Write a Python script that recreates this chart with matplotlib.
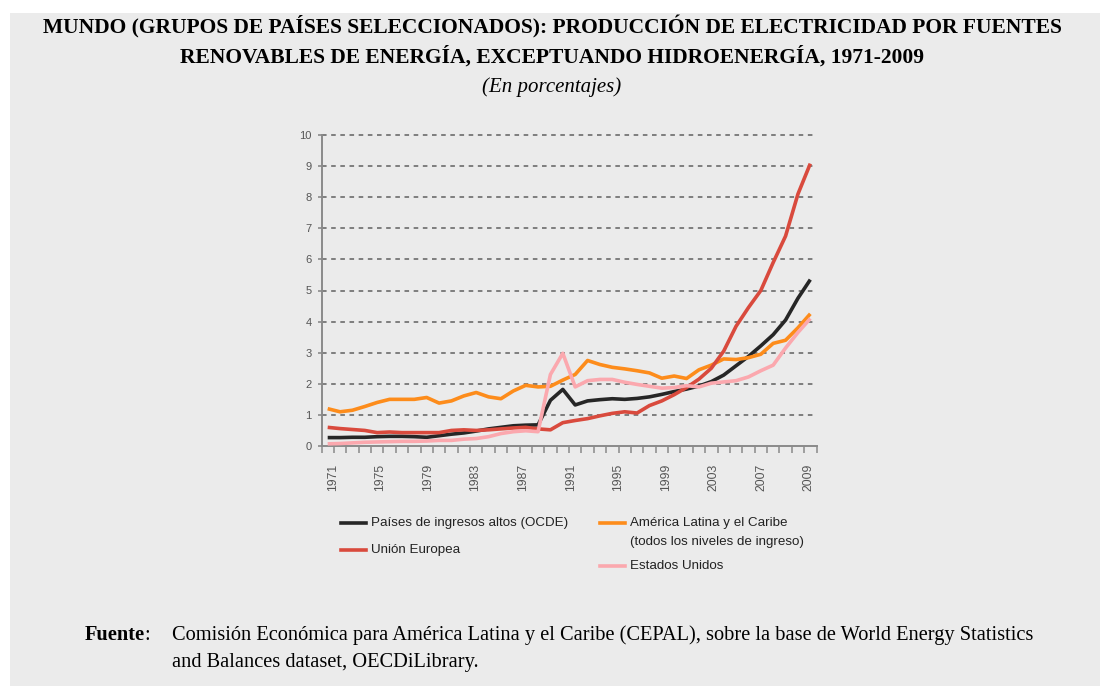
import numpy as np
import matplotlib
matplotlib.use("Agg")
import matplotlib.pyplot as plt
from matplotlib.lines import Line2D
from matplotlib.patches import Rectangle

# values, % of electricity (40 points)
ocde = [0.27, 0.27, 0.28, 0.28, 0.30, 0.31, 0.31, 0.30, 0.28, 0.33,
        0.38, 0.42, 0.48, 0.55, 0.60, 0.65, 0.67, 0.68, 1.47, 1.82,
        1.32, 1.45, 1.49, 1.52, 1.50, 1.53, 1.58, 1.66, 1.75, 1.83,
        1.93, 2.07, 2.28, 2.58, 2.88, 3.22, 3.58, 4.05, 4.75, 5.35]
ue = [0.60, 0.56, 0.53, 0.50, 0.43, 0.45, 0.43, 0.43, 0.43, 0.43,
      0.50, 0.52, 0.50, 0.52, 0.55, 0.58, 0.60, 0.55, 0.52, 0.75,
      0.82, 0.88, 0.97, 1.05, 1.10, 1.06, 1.30, 1.45, 1.65, 1.88,
      2.15, 2.50, 3.05, 3.85, 4.45, 5.00, 5.90, 6.75, 8.10, 9.08]
alc = [1.20, 1.10, 1.15, 1.27, 1.40, 1.50, 1.50, 1.50, 1.56, 1.38,
       1.45, 1.61, 1.72, 1.58, 1.52, 1.77, 1.95, 1.90, 1.92, 2.12,
       2.30, 2.75, 2.62, 2.53, 2.48, 2.42, 2.35, 2.18, 2.25, 2.17,
       2.45, 2.60, 2.80, 2.78, 2.84, 2.95, 3.30, 3.40, 3.80, 4.25]
eeuu = [0.07, 0.08, 0.10, 0.12, 0.13, 0.14, 0.15, 0.15, 0.16, 0.18,
        0.18, 0.22, 0.24, 0.30, 0.40, 0.46, 0.49, 0.46, 2.30, 2.98,
        1.90, 2.10, 2.14, 2.14, 2.05, 1.98, 1.92, 1.86, 1.88, 1.94,
        1.90, 2.02, 2.06, 2.10, 2.22, 2.42, 2.60, 3.15, 3.65, 4.10]

year_labels = ['1971', '1975', '1979', '1983', '1987', '1991',
               '1995', '1999', '2003', '2007', '2009']

names = ['Países de ingresos altos (OCDE)', 'Unión Europea',
         'América Latina y el Caribe\n(todos los niveles de ingreso)',
         'Estados Unidos']
colors = ['#262626', '#d94a3d', '#fd8c1b', '#fba8ae']

W, H = 1104, 688
BG = '#ebebeb'
SANS = ['Liberation Sans', 'DejaVu Sans']
SERIF = ['Liberation Serif', 'DejaVu Serif']


def fx(px):
    return px / W


def fy(py):
    return 1 - py / H


fig = plt.figure(figsize=(W / 100, H / 100), dpi=100, facecolor='white')
fig.patches.append(Rectangle((fx(10), fy(686)), fx(1090), 673 / H,
                             transform=fig.transFigure, facecolor=BG,
                             edgecolor='none', zorder=-5))

ax = fig.add_axes([fx(321.5), fy(446), fx(816.5 - 321.5), (446 - 135) / H])
ax.set_zorder(2)
ax.patch.set_alpha(0)

x = np.arange(len(ocde))
for vals, c in [(ocde, colors[0]), (alc, colors[2]), (ue, colors[1]), (eeuu, colors[3])]:
    ax.plot(x, vals, color=c, lw=2.6, solid_capstyle='butt',
            solid_joinstyle='round', zorder=3)

ax.set_xlim(-0.5, len(ocde) - 0.5)
ax.set_ylim(0, 10)
for s in ['top', 'right']:
    ax.spines[s].set_visible(False)
for s in ['left', 'bottom']:
    ax.spines[s].set_color('#8a8a8a')
    ax.spines[s].set_linewidth(1.4)

ax.set_yticks(range(0, 11))
ax.tick_params(axis='y', direction='out', length=3, width=1.2,
               color='#8a8a8a', labelsize=8, labelcolor='#555555', pad=4)
for lab in ax.get_yticklabels():
    lab.set_family(SANS)
for v in range(1, 11):
    ax.axhline(v, color='#606060', lw=1.1, ls=(0, (3, 3)), zorder=1,
               clip_on=False)

# ticks between categories, labels spread evenly under the axis
ax.set_xticks(np.arange(-0.5, len(ocde), 1.0))
ax.set_xticklabels([])
ax.tick_params(axis='x', which='major', direction='out', length=5,
               width=1.1, color='#8a8a8a')
ax.set_xticks(np.linspace(0.41, 38.87, len(year_labels)), minor=True)
ax.set_xticklabels(year_labels, minor=True, rotation=90, fontsize=8.8,
                   color='#555555', family=SANS)
ax.tick_params(axis='x', which='minor', length=0, pad=13)

# legend drawn by hand to follow the two-column layout
leg = [(341, 523, names[0], colors[0]), (341, 550, names[1], colors[1]),
       (600, 523, names[2], colors[2]), (600, 566, names[3], colors[3])]
for hx, hy, txt, c in leg:
    fig.add_artist(Line2D([fx(hx), fx(hx + 25)], [fy(hy), fy(hy)],
                          transform=fig.transFigure, color=c, lw=2.6))
    for k, line in enumerate(txt.split('\n')):
        fig.text(fx(hx + 30), fy(hy + 19 * k), line, fontsize=9.6,
                 family=SANS, color='#222222', va='center')

fig.text(0.5, fy(27), 'MUNDO (GRUPOS DE PAÍSES SELECCIONADOS): PRODUCCIÓN DE ELECTRICIDAD POR FUENTES',
         ha='center', va='center', fontsize=15.5, fontweight='bold', family=SERIF)
fig.text(0.5, fy(57), 'RENOVABLES DE ENERGÍA, EXCEPTUANDO HIDROENERGÍA, 1971-2009',
         ha='center', va='center', fontsize=15.5, fontweight='bold', family=SERIF)
fig.text(0.5, fy(87), '(En porcentajes)', ha='center', va='center',
         fontsize=15, style='italic', family=SERIF)

fig.text(fx(85), fy(635), 'Fuente', fontsize=14.7, fontweight='bold',
         family=SERIF, va='center')
fig.text(fx(144), fy(635), ':', fontsize=14.7, family=SERIF, va='center')
fig.text(fx(172), fy(635),
         'Comisión Económica para América Latina y el Caribe (CEPAL), sobre la base de World Energy Statistics',
         fontsize=14.7, family=SERIF, va='center')
fig.text(fx(172), fy(662), 'and Balances dataset, OECDiLibrary.',
         fontsize=14.7, family=SERIF, va='center')

fig.savefig('out.png', dpi=100, facecolor='white')
